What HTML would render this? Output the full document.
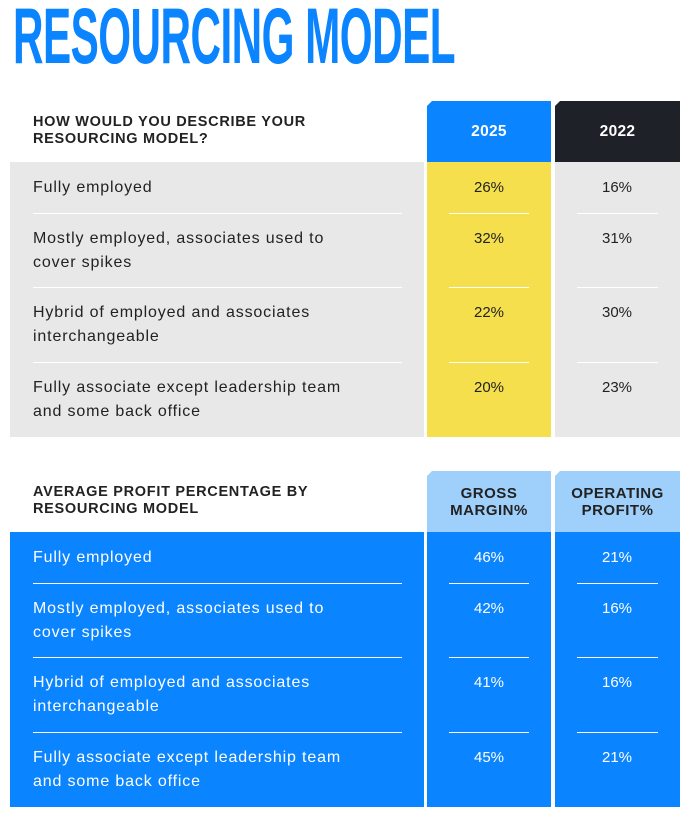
<!DOCTYPE html>
<html><head><meta charset="utf-8">
<style>
body{margin:0;width:698px;height:813px;background:#fff;position:relative;overflow:hidden;font-family:"Liberation Sans",sans-serif;}
.a{position:absolute;}
#title{left:13px;top:-4px;font-size:79px;font-weight:bold;color:#0a84ff;white-space:nowrap;transform-origin:0 0;line-height:1;letter-spacing:-1px}
.hd{font-weight:bold;font-size:14.5px;color:#222;line-height:17px;letter-spacing:0.7px}
.cell{display:flex;align-items:center;justify-content:center;text-align:center}
.bevel{clip-path:polygon(5px 0,100% 0,100% 100%,0 100%,0 5px)}
.lbl{left:33px;font-size:16px;line-height:24px;color:#222;width:380px;letter-spacing:0.85px}
.val{font-size:15px;color:#222;text-align:center;width:124px}
.ln{height:1px;background:#fff}
</style></head><body>
<div class="a" id="title">RESOURCING MODEL</div>

<div class="a hd" style="left:33px;top:114px">HOW WOULD YOU DESCRIBE YOUR<br>RESOURCING MODEL?</div>
<div class="a cell bevel hd" style="left:427px;top:101px;width:124px;height:61px;background:#0a84ff;color:#fff;font-size:15.5px;letter-spacing:0.3px">2025</div>
<div class="a cell bevel hd" style="left:555px;top:101px;width:125px;height:61px;background:#1f2128;color:#fff;font-size:15.5px;letter-spacing:0.3px">2022</div>
<div class="a" style="left:10px;top:162px;width:414px;height:275px;background:#e8e8e8"></div>
<div class="a" style="left:427px;top:162px;width:124px;height:275px;background:#f5df4d"></div>
<div class="a" style="left:555px;top:162px;width:125px;height:275px;background:#e8e8e8"></div>

<div class="a hd" style="left:33px;top:484px">AVERAGE PROFIT PERCENTAGE BY<br>RESOURCING MODEL</div>
<div class="a cell bevel hd" style="left:427px;top:471px;width:124px;height:61px;background:#9fd0fb;font-size:15px;letter-spacing:0.5px">GROSS<br>MARGIN%</div>
<div class="a cell bevel hd" style="left:555px;top:471px;width:125px;height:61px;background:#9fd0fb;font-size:15px;letter-spacing:0.5px">OPERATING<br>PROFIT%</div>
<div class="a" style="left:10px;top:532px;width:414px;height:275px;background:#0a84ff"></div>
<div class="a" style="left:427px;top:532px;width:124px;height:275px;background:#0a84ff"></div>
<div class="a" style="left:555px;top:532px;width:125px;height:275px;background:#0a84ff"></div>

<script>
const labels=["Fully employed","Mostly employed, associates used to<br>cover spikes","Hybrid of employed and associates<br>interchangeable","Fully associate except leadership team<br>and some back office"];
const v2025=["26%","32%","22%","20%"];
const v2022=["16%","31%","30%","23%"];
const gross=["46%","42%","41%","45%"];
const oper=["21%","16%","16%","21%"];
const rowTops=[0,51,125,200];
function table(top,a,b,color){
  for(let i=0;i<4;i++){
    const y=top+rowTops[i];
    const l=document.createElement('div');l.className='a lbl';l.style.top=(y+14)+'px';l.style.color=color;l.innerHTML=labels[i];
    
    
    document.body.appendChild(l);
    [[a,427],[b,555]].forEach(([arr,x])=>{
      const v=document.createElement('div');v.className='a val';v.style.left=x+'px';v.style.top=(y+17)+'px';v.style.color=color;v.textContent=arr[i];
      
      
      document.body.appendChild(v);
    });
    if(i<3){
      const ny=top+rowTops[i+1];
      [[33,369],[449,80],[577,81]].forEach(([x,w])=>{
        const d=document.createElement('div');d.className='a ln';d.style.left=x+'px';d.style.width=w+'px';d.style.top=ny+'px';
        
        
        document.body.appendChild(d);
      });
    }
  }
}
table(162,v2025,v2022,'#222');
table(532,gross,oper,'#fff');
const t=document.getElementById('title');
const w=t.getBoundingClientRect().width;
t.style.transform='scaleX('+(442/w)+')';
</script>
</body></html>
